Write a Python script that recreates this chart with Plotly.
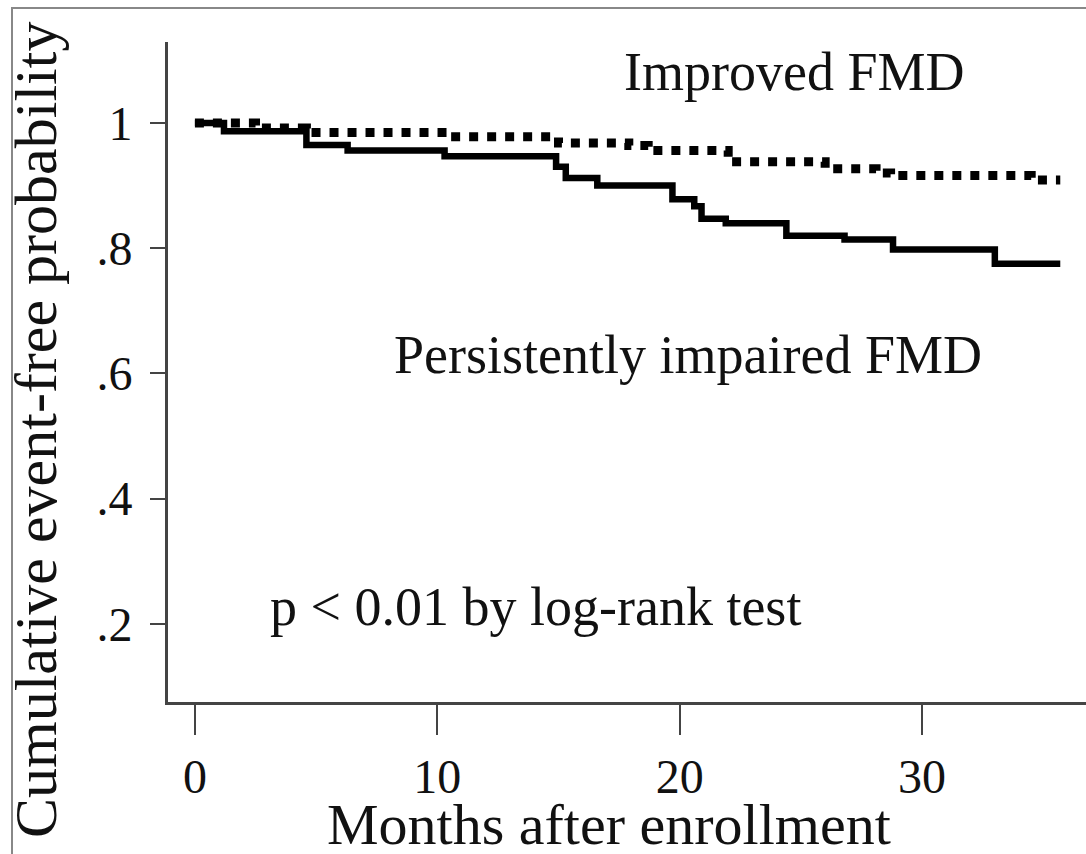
import plotly.graph_objects as go

# ---- data ----
months_improved = [0, 2.5, 4.6, 10.5, 15.0, 17.9, 18.7, 22.0, 26.0, 28.1, 28.7, 34.5, 35.7]
surv_improved = [1.0, 0.992, 0.985, 0.978, 0.968, 0.964, 0.956, 0.938, 0.927, 0.920, 0.916, 0.909, 0.909]

months_impaired = [0, 1.2, 4.6, 6.3, 10.3, 14.9, 15.3, 16.6, 19.7, 20.6, 20.9, 21.9, 24.4, 26.8, 28.8, 33.0, 35.7]
surv_impaired = [1.0, 0.987, 0.965, 0.956, 0.947, 0.930, 0.912, 0.900, 0.878, 0.867, 0.847, 0.840, 0.820, 0.814, 0.798, 0.775, 0.775]

x_ticks = [0, 10, 20, 30]
x_tick_labels = ["0", "10", "20", "30"]
y_ticks = [0.2, 0.4, 0.6, 0.8, 1.0]
y_tick_labels = [".2", ".4", ".6", ".8", "1"]

label_improved = "Improved FMD"
label_impaired = "Persistently impaired FMD"
label_p = "p < 0.01 by log-rank test"
x_title = "Months after enrollment"
y_title = "Cumulative event-free probability"

W, H = 1086, 854
L, R, T, B = 168, 0, 42, 152
PW, PH = W - L - R, H - T - B


def px(xp):
    return (xp - L) / PW


def py(yp):
    return (H - B - yp) / PH


FONT = "Liberation Serif"
AX = "#444444"
TXT = "#111111"

fig = go.Figure()
fig.add_trace(go.Scatter(
    x=months_improved, y=surv_improved, mode="lines",
    line=dict(color="black", width=9, dash="9px,9px", shape="hv"),
    showlegend=False, hoverinfo="skip"))
fig.add_trace(go.Scatter(
    x=months_impaired, y=surv_impaired, mode="lines",
    line=dict(color="black", width=6.5, shape="hv"),
    showlegend=False, hoverinfo="skip"))

fig.update_layout(
    width=W, height=H,
    margin=dict(l=L, r=R, t=T, b=B, pad=0),
    plot_bgcolor="white", paper_bgcolor="white",
    font=dict(family=FONT, color=TXT),
    showlegend=False,
)

fig.update_xaxes(
    range=[-1.11, -1.11 + PW / 24.24],
    tickmode="array", tickvals=x_ticks, ticktext=x_tick_labels,
    showline=True, linecolor=AX, linewidth=3,
    ticks="outside", ticklen=30, tickwidth=2, tickcolor=AX,
    showgrid=False, zeroline=False,
    tickfont=dict(family=FONT, size=48, color=TXT),
    ticklabelstandoff=0,
)
fig.update_yaxes(
    range=[1 - (H - B - 123) / 626, 1 + (123 - T) / 626],
    tickmode="array", tickvals=y_ticks, ticktext=y_tick_labels,
    showline=True, linecolor=AX, linewidth=3,
    ticks="outside", ticklen=15, tickwidth=2, tickcolor=AX,
    showgrid=False, zeroline=False,
    tickfont=dict(family=FONT, size=48, color=TXT),
    ticklabelstandoff=8,
)

annots = [
    dict(text=label_improved, x=px(794), y=py(72), size=54, angle=0),
    dict(text=label_impaired, x=px(688), y=py(355), size=54, angle=0),
    dict(text=label_p, x=px(535), y=py(607), size=54, angle=0),
    dict(text=x_title, x=px(609), y=py(824), size=58, angle=0),
    dict(text=y_title, x=px(36), y=py(430), size=60, angle=-90),
]
for a in annots:
    fig.add_annotation(
        text=a["text"], x=a["x"], y=a["y"], xref="paper", yref="paper",
        xanchor="center", yanchor="middle", showarrow=False,
        textangle=a["angle"], font=dict(family=FONT, size=a["size"], color=TXT),
    )

# thin grey frame around the figure (top and left edges visible)
fig.add_shape(type="rect", xref="paper", yref="paper",
              x0=px(12), y0=py(8), x1=px(W + 20), y1=py(H + 20),
              line=dict(color="#888888", width=2), fillcolor="rgba(0,0,0,0)", layer="above")

fig.write_html("out.html")
